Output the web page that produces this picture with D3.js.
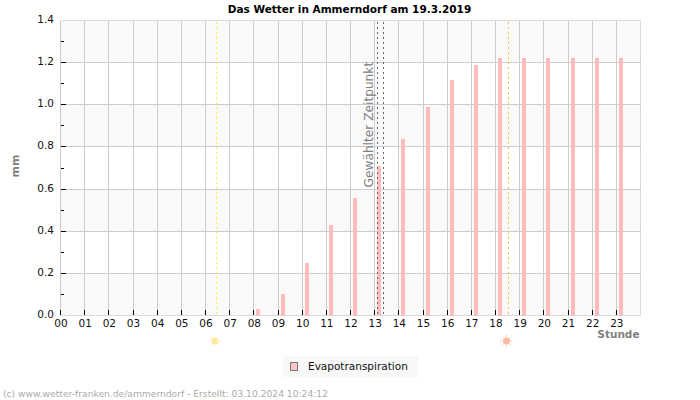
<!DOCTYPE html>
<html><head><meta charset="utf-8">
<script src="https://cdnjs.cloudflare.com/ajax/libs/d3/7.8.5/d3.min.js"></script>
<style>html,body{margin:0;padding:0;background:#fff}svg{display:block}text{font-family:"DejaVu Sans",sans-serif}.cr line,.cr rect{shape-rendering:crispEdges}</style>
</head><body><svg id="c" width="700" height="400"></svg>
<script>
const hours = d3.range(0,24).map(h=>String(h).padStart(2,"0"));
const evapo = [0,0,0,0,0,0,0,0,0.03,0.10,0.25,0.43,0.56,0.71,0.84,0.99,1.12,1.19,1.22,1.22,1.22,1.22,1.22,1.22];
const yMajor = [0,0.2,0.4,0.6,0.8,1.0,1.2,1.4];
const yMinor = [0.1,0.3,0.5,0.7,0.9,1.1,1.3];
const bands = [[0,0.2],[0.4,0.6],[0.8,1.0],[1.2,1.4]];
const sunrise = 6.45, sunset = 18.52;
const selected = [13.12,13.35];
const barOffset = 0.19;

const root = d3.select("#c");
const svg = root.append("g").attr("class","cr");
const x = d3.scaleLinear().domain([0,24]).range([60.5,640.5]);
const y = d3.scaleLinear().domain([0,1.4]).range([315.5,20.5]);
const px = v=>Math.floor(v)+.5;
const G = "#cccccc", E="#dcdcdc";

svg.selectAll(".band").data(bands).join("rect")
  .attr("x",x(0)).attr("width",x(24)-x(0))
  .attr("y",d=>y(d[1])).attr("height",d=>y(d[0])-y(d[1])).attr("fill","#f9f9f9");

svg.selectAll(".vg").data(d3.range(0,25)).join("line")
  .attr("x1",d=>px(x(d))).attr("x2",d=>px(x(d)))
  .attr("y1",y(1.4)).attr("y2",y(0)).attr("stroke",d=>d===24?E:G);
svg.selectAll(".hg").data(yMajor).join("line")
  .attr("x1",x(0)).attr("x2",x(24))
  .attr("y1",d=>px(y(d))).attr("y2",d=>px(y(d))).attr("stroke",d=>(d===0||d===1.4)?E:G);

svg.selectAll(".bar").data(evapo).join("rect")
  .attr("x",(d,i)=>Math.round(x(i+barOffset)-2)).attr("width",4)
  .attr("y",d=>y(d)).attr("height",d=>y(0)-y(d)).attr("fill","#ffbcbc");

const vline=(h,c)=>svg.append("line").attr("x1",px(x(h))).attr("x2",px(x(h)))
  .attr("y1",y(1.4)+1).attr("y2",y(0)).attr("stroke",c).attr("stroke-dasharray","2 3");
vline(sunrise,"#ffee44");
vline(sunset,"#ffbb44");
selected.forEach(h=>vline(h,"#666"));

svg.selectAll(".tx").data(d3.range(0,24)).join("line")
  .attr("x1",d=>px(x(d))).attr("x2",d=>px(x(d)))
  .attr("y1",310).attr("y2",315).attr("stroke","#000");
svg.selectAll(".ty").data(yMajor.slice(1,-1)).join("line")
  .attr("x1",61).attr("x2",66).attr("y1",d=>px(y(d))).attr("y2",d=>px(y(d))).attr("stroke","#000");
svg.selectAll(".tm").data(yMinor).join("line")
  .attr("x1",61).attr("x2",64).attr("y1",d=>px(y(d))).attr("y2",d=>px(y(d))).attr("stroke","#000");

svg.selectAll(".xl").data(hours).join("text")
  .attr("x",(d,i)=>x(i)+.5).attr("y",327).attr("text-anchor","middle")
  .attr("font-size",10.5).attr("fill","#111").text(d=>d);
svg.selectAll(".yl").data(yMajor).join("text")
  .attr("x",54).attr("y",d=>y(d)+2.5).attr("text-anchor","end")
  .attr("font-size",10.5).attr("fill","#111").text(d=>d.toFixed(1));

svg.append("text").attr("x",349.5).attr("y",13).attr("text-anchor","middle")
  .attr("font-size",10.5).attr("font-weight","bold").attr("fill","#000").text("Das Wetter in Ammerndorf am 19.3.2019");
svg.append("text").attr("transform","translate(19,166) rotate(-90)").attr("text-anchor","middle")
  .attr("font-size",11).attr("font-weight","bold").attr("fill","#808080").text("mm");
svg.append("text").attr("x",639.5).attr("y",338).attr("text-anchor","end")
  .attr("font-size",10.5).attr("font-weight","bold").attr("fill","#808080").text("Stunde");
svg.append("text").attr("transform","translate(373,187.5) rotate(-90)")
  .attr("font-size",12.2).attr("fill","#808080").text("Gewählter Zeitpunkt");

const suns=[[sunrise,"#ffe9a0"],[sunset,"#ffb8a0"]];
suns.forEach(([h,c])=>{
  const g=root.append("g").attr("transform",`translate(${x(h)-1.5},341)`);
  g.append("circle").attr("r",3.6).attr("fill",c);
  g.selectAll("line").data(d3.range(0,8)).join("line")
    .attr("x1",d=>4.4*Math.cos(d*Math.PI/4)).attr("y1",d=>4.4*Math.sin(d*Math.PI/4))
    .attr("x2",d=>6*Math.cos(d*Math.PI/4)).attr("y2",d=>6*Math.sin(d*Math.PI/4))
    .attr("stroke",c).attr("stroke-width",1);
});

svg.append("rect").attr("x",283).attr("y",356).attr("width",135).attr("height",21).attr("fill","#f8f8f8");
svg.append("rect").attr("x",290.5).attr("y",362.5).attr("width",7).attr("height",8).attr("fill","#ffc4c4").attr("stroke","#777");
svg.append("text").attr("x",308).attr("y",370).attr("font-size",10.5).attr("fill","#111").text("Evapotranspiration");
svg.append("text").attr("x",3).attr("y",397).attr("font-size",9.17).attr("fill","#aaa").text("(c) www.wetter-franken.de/ammerndorf - Erstellt: 03.10.2024 10:24:12");
</script></body></html>
